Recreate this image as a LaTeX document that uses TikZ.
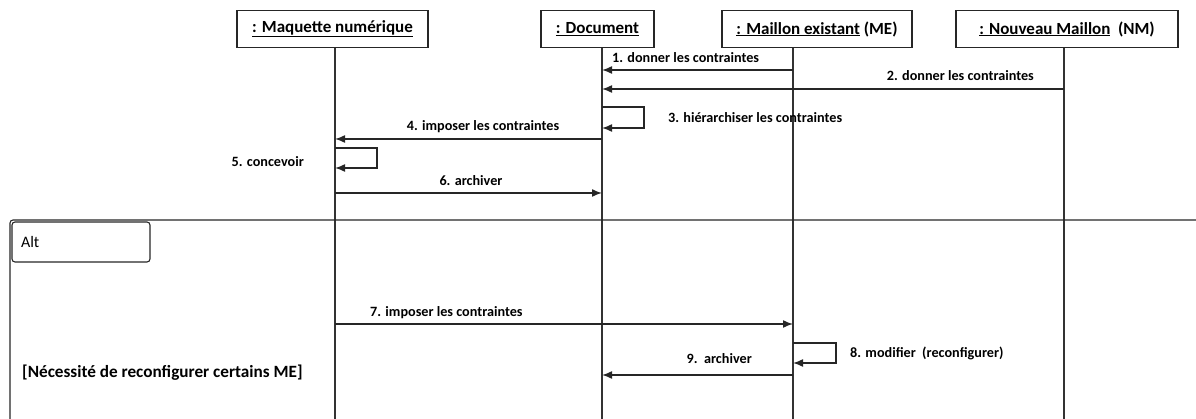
\documentclass[tikz,border=0pt]{standalone}
\usepackage{fontspec}
\setmainfont{Carlito}
\usetikzlibrary{arrows.meta}

\begin{document}
\begin{tikzpicture}[
					x=1pt,y=-1pt,
					lifebox/.style={draw=black!85,line width=1.3pt,minimum height=37pt,inner sep=0pt,font=\fontsize{17}{19}\selectfont\bfseries},
					lline/.style={draw=black!80,line width=1.1pt},
					msg/.style={draw=black!85,line width=1.5pt,-{Latex[length=10pt,width=8pt]}},
					lbl/.style={inner sep=0pt,font=\fontsize{14.2}{16}\selectfont\bfseries},
					frm/.style={draw=black!85,line width=1.1pt}
					]
					\useasboundingbox (0,0) rectangle (1196,419);
					% lifelines
					\foreach \n/\cx/\w/\lx/\t in {mq/332.5/191/335/{\underline{: Maquette numérique}},
						doc/597.5/113/602/{\underline{: Document}},
						me/817/190/793/{\underline{: Maillon existant} (ME)},
						nm/1067/222/1064/{\underline{: Nouveau Maillon}\ \ (NM)}}{
						\node[lifebox,minimum width=\w] (\n) at (\cx,29) {\t};
						\coordinate (l-\n) at (\lx,0);
						\draw[lline] (\n.south -| l-\n) -- (l-\n |- 0,425);
					}
					% messages
					\draw[msg] (l-me |- 0,70) -- (l-doc |- 0,70);
					\node[lbl,anchor=west] (t1) at (612,58) {1. donner les contraintes};
					\draw[msg] (l-nm |- 0,89) -- (l-doc |- 0,89);
					\node[lbl,anchor=east] (t2) at (1034,76) {2. donner les contraintes};
					\draw[msg] (l-doc |- 0,107) -- ++(42,0) |- (l-doc |- 0,128);
					\node[lbl,anchor=west] (t3) at (668,118) {3. hiérarchiser les contraintes};
					\draw[msg] (l-doc |- 0,139) -- (l-mq |- 0,139);
					\node[lbl] (t4) at (483,127) {4. imposer les contraintes};
					\draw[msg] (l-mq |- 0,148) -- ++(42,0) |- (l-mq |- 0,168);
					\node[lbl,anchor=east] (t5) at (304,162) {5. concevoir};
					\draw[msg] (l-mq |- 0,193) -- (l-doc |- 0,193);
					\node[lbl] (t6) at (471,181) {6. archiver};
					% alt fragment
					\draw[frm,rounded corners=3pt] (1200,220) -- (10,220) -- (10,425);
					\node[draw=black!85,line width=1.1pt,rounded corners=3pt,minimum width=138pt,minimum height=40pt,
						font=\fontsize{16}{18}\selectfont,text width=120pt,align=left] (alt) at (81,242) {Alt};
					\node[inner sep=0pt,anchor=west,font=\fontsize{17.2}{19}\selectfont\bfseries] (guard) at (22,373) {[Nécessité de reconfigurer certains ME]};
					\draw[msg] (l-mq |- 0,324) -- (l-me |- 0,324);
					\node[lbl,anchor=west] (t7) at (370,313) {7. imposer les contraintes};
					\draw[msg] (l-me |- 0,343) -- ++(43,0) |- (l-me |- 0,363);
					\node[lbl,anchor=west] (t8) at (850,353) {8. modifier\ \ (reconfigurer)};
					\draw[msg] (l-me |- 0,375) -- (l-doc |- 0,375);
					\node[lbl,anchor=east] (t9) at (752,359) {9.\ \ archiver};
				\end{tikzpicture}
\end{document}
